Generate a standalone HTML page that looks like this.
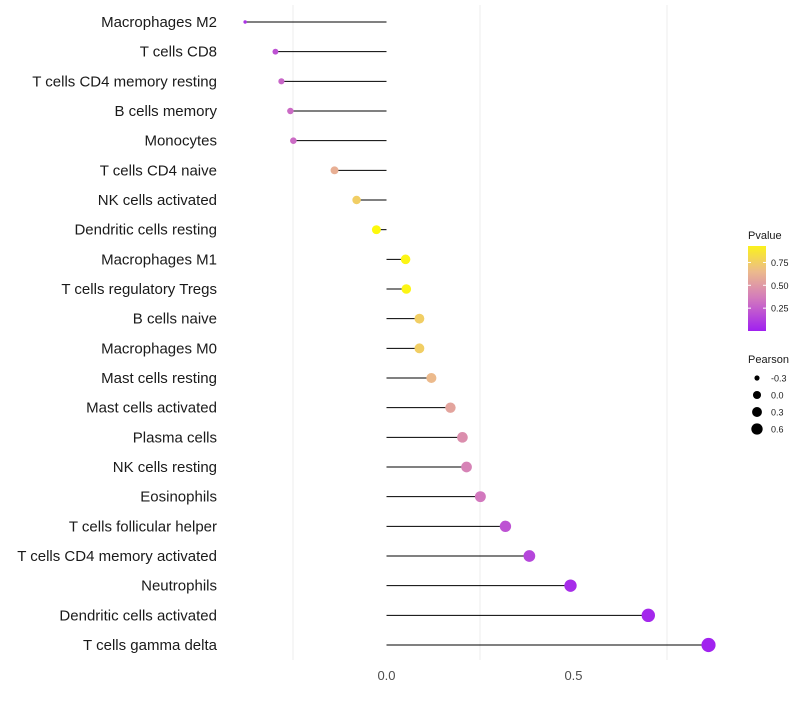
<!DOCTYPE html>
<html><head><meta charset="utf-8"><style>
body{margin:0;background:#fff;font-family:"Liberation Sans",sans-serif}
</style></head><body>
<svg id="c" width="800" height="700" xmlns="http://www.w3.org/2000/svg"></svg>
<script>
const categories=["Macrophages M2","T cells CD8","T cells CD4 memory resting","B cells memory","Monocytes","T cells CD4 naive","NK cells activated","Dendritic cells resting","Macrophages M1","T cells regulatory  Tregs ","B cells naive","Macrophages M0","Mast cells resting","Mast cells activated","Plasma cells","NK cells resting","Eosinophils","T cells follicular helper","T cells CD4 memory activated","Neutrophils","Dendritic cells activated","T cells gamma delta"];
const pearson=[-0.378,-0.297,-0.281,-0.257,-0.249,-0.139,-0.080,-0.027,0.051,0.053,0.088,0.088,0.120,0.171,0.203,0.214,0.251,0.318,0.382,0.492,0.700,0.861];
const pvalue=[0.08,0.2,0.28,0.3,0.3,0.6,0.75,0.97,0.95,0.95,0.75,0.75,0.65,0.55,0.45,0.4,0.35,0.2,0.15,0.05,0.03,0.01];
const xTicks=[0.0,0.5];
const xGrid=[-0.25,0.25,0.75];
const legendP=[0.75,0.50,0.25];
const legendR=[-0.3,0.0,0.3,0.6];
const NS="http://www.w3.org/2000/svg";
const svg=document.getElementById('c');
function mk(t,a,p){const e=document.createElementNS(NS,t);for(const k in a)e.setAttribute(k,a[k]);(p||svg).appendChild(e);return e;}
const x=v=>386.5+v*374;
const y=i=>22+i*(623/21);
const r=v=>1.5+5*Math.sqrt(Math.max(0,v+0.38));
const stops=[[0,[160,32,240]],[0.35,[210,120,190]],[0.65,[236,186,140]],[1,[255,255,0]]];
function col(p){p=Math.max(0,Math.min(1,p));for(let i=1;i<stops.length;i++){if(p<=stops[i][0]){const a=stops[i-1],b=stops[i],t=(p-a[0])/(b[0]-a[0]);return'rgb('+a[1].map((c,j)=>Math.round(c+(b[1][j]-c)*t)).join(',')+')';}}}
xGrid.forEach(v=>{const g=mk('line',{x1:x(v),x2:x(v),y1:5,y2:660,stroke:'#ededed','stroke-width':1});

});
categories.forEach((c,i)=>{
const l=mk('line',{x1:x(0),x2:x(pearson[i]),y1:y(i),y2:y(i),stroke:'#000','stroke-width':1});


const d=mk('circle',{cx:x(pearson[i]),cy:y(i),r:r(pearson[i]),fill:col(pvalue[i])});


const t=mk('text',{x:217,y:y(i)+5,'text-anchor':'end','font-size':15,fill:'#1a1a1a'});t.textContent=c;


});
xTicks.forEach(v=>{const t=mk('text',{x:x(v),y:680,'text-anchor':'middle','font-size':13,fill:'#4d4d4d'});t.textContent=v.toFixed(1);

});
const lt=mk('text',{x:748,y:239,'font-size':11,fill:'#1a1a1a'});lt.textContent='Pvalue';


const defs=mk('defs',{});const lg=mk('linearGradient',{id:'g',x1:0,y1:1,x2:0,y2:0},defs);
const pmin=0,pmax=0.93;
for(let k=0;k<=10;k++){const p=pmin+(pmax-pmin)*k/10;mk('stop',{offset:k/10,'stop-color':col(p)},lg);}
const cb=mk('rect',{x:748,y:246,width:18,height:85,fill:'url(#g)'});


const py=p=>331-(p-pmin)/(pmax-pmin)*85;
legendP.forEach(p=>{mk('line',{x1:748,x2:751,y1:py(p),y2:py(p),stroke:'#fff'});mk('line',{x1:763,x2:766,y1:py(p),y2:py(p),stroke:'#fff'});
const t=mk('text',{x:771,y:py(p)+3.5,'font-size':9,fill:'#1a1a1a'});t.textContent=p.toFixed(2);

});
const st=mk('text',{x:748,y:363,'font-size':11,fill:'#1a1a1a'});st.textContent='Pearson';


legendR.forEach((v,k)=>{const cy=378+k*17;const c=mk('circle',{cx:757,cy:cy,r:r(v)*0.88,fill:'#000'});


const t=mk('text',{x:771,y:cy+3.5,'font-size':9,fill:'#1a1a1a'});t.textContent=v.toFixed(1);

});
</script>
</body></html>
